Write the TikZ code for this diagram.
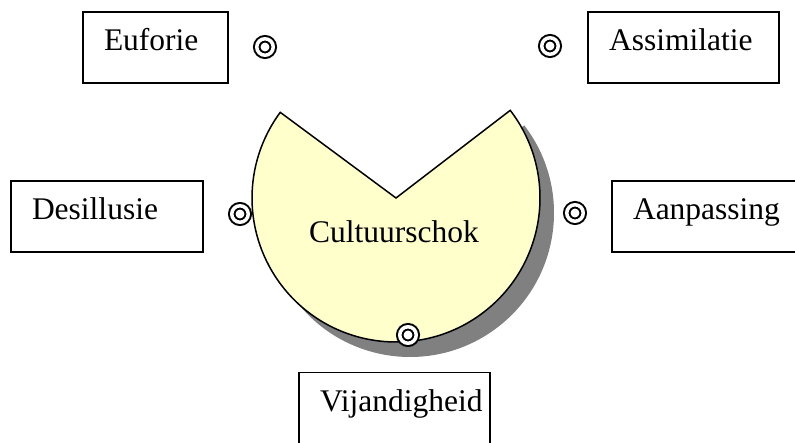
\documentclass[tikz,border=0pt]{standalone}
\usepackage{fontspec}
\setmainfont{Liberation Serif}
\definecolor{paleyellow}{HTML}{FFFFCC}
\definecolor{shadowgray}{HTML}{808080}
\begin{document}
\begin{tikzpicture}[x=1pt,y=1pt,
  lbl/.style={font=\fontsize{31.5}{36}\selectfont},
  box/.style={draw, line width=1.3pt, rectangle, minimum height=71pt,
    inner ysep=0pt, inner xsep=21pt, align=left, text height=39pt,
    text depth=32pt, lbl},
  ring/.style={circle, draw, line width=2pt, double, double distance=3.5pt,
    minimum size=16.5pt, inner sep=0pt, fill=white}
]
\clip (0,0) rectangle (795,443);
\fill[white] (0,0) rectangle (795,443);
% shadow
\fill[shadowgray, shift={(14,-15)}] (396,245) -- ++(37.5:144)
  arc[start angle=37.5, end angle=-216.5, radius=144] -- cycle;
% pacman shape
\draw[line width=1.5pt, fill=paleyellow, line join=miter] (396,245) -- ++(37.5:144)
  arc[start angle=37.5, end angle=-216.5, radius=144] -- cycle;
\node[lbl, anchor=base] (cs) at (394,200) {Cultuurschok};
% boxes
\node[box, text width=103pt] (eu) at (155.5,395.5) {Euforie};
\node[box, text width=149pt] (as) at (683.5,395.5) {Assimilatie};
\node[box, text width=150pt] (de) at (107,226.5) {Desillusie};
\node[box, text width=149pt] (aa) at (707.5,226.5) {Aanpassing};
\node[box, text width=149pt] (vi) at (394.5,35) {Vijandigheid};
% markers
\node[ring] (m1) at (265,396) {};
\node[ring] (m2) at (550,397) {};
\node[ring] (m3) at (240,229) {};
\node[ring] (m4) at (575,230) {};
\node[ring] (m5) at (408,108) {};
\end{tikzpicture}
\end{document}
